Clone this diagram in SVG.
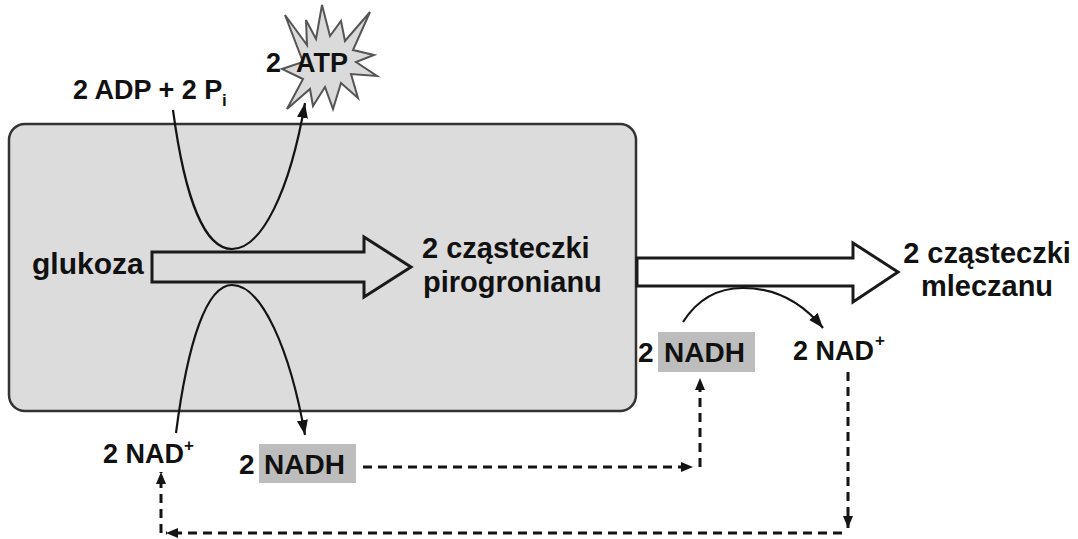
<svg xmlns="http://www.w3.org/2000/svg" width="1078" height="539" viewBox="0 0 1078 539">
  <style>
    text { font-family: "Liberation Sans", Arial, sans-serif; font-weight: bold; font-size: 27px; fill: #111; }
    .lg { font-size: 29px; }
    .nadh { font-size: 28px; }
    .sub { font-size: 17px; }
    .curve { fill: none; stroke: #141414; stroke-width: 2.2; }
    .dash { fill: none; stroke: #141414; stroke-width: 3; stroke-dasharray: 9 6; }
    .big { stroke: #1a1a1a; stroke-width: 3; stroke-linejoin: miter; }
    .hl { fill: #bdbdbd; }
  </style>
  <defs>
    <marker id="ah" markerWidth="16" markerHeight="12" refX="15" refY="5.5" orient="auto" markerUnits="userSpaceOnUse">
      <path d="M0,0 L15,5.5 L0,11 z" fill="#141414"/>
    </marker>
    <marker id="ahs" markerWidth="13" markerHeight="11" refX="12" refY="5" orient="auto" markerUnits="userSpaceOnUse">
      <path d="M0,0 L12,5 L0,10 z" fill="#141414"/>
    </marker>
  </defs>
  <rect width="1078" height="539" fill="#ffffff"/>

  <g id="cell">
    <rect x="9" y="124" width="627" height="287" rx="16" ry="16" fill="#dcdcdc" stroke="#333" stroke-width="2.5"/>
  </g>

  <g id="atp-burst">
    <polygon points="322,5 330,36 341,21 345,41 370,12 353,50 374,55 356,62 377,76 351,74 358,98 341,83 333,109 325,87 313,106 310,89 287,109 303,79 282,69 303,62 285,15 307,45 306,20 316,39" fill="#dadada" stroke="#555" stroke-width="2" stroke-linejoin="miter"/>
  </g>

  <g id="connectors">
    <polygon class="big" points="152,252 364,252 364,237 411,267 364,297 364,282 152,282" fill="#dcdcdc"/>
    <path class="curve" d="M173,110 C185,200 205,249 232,249 C262,249 290,190 305,103" marker-end="url(#ah)"/>
    <path class="curve" d="M176,433 C188,340 207,285 232,285 C262,285 290,350 305,435" marker-end="url(#ah)"/>
    <polygon class="big" points="637,258 853,258 853,243 898,272 853,302 853,286 637,286" fill="#ffffff"/>
    <path class="curve" d="M683,322 C697,300 717,288 743,288 C778,288 804,305 823,328" marker-end="url(#ah)"/>
    <path class="dash" d="M363,467 H693" marker-end="url(#ahs)"/>
    <path class="dash" d="M700,467 V378" marker-end="url(#ahs)"/>
    <path class="dash" d="M848,372 V528" marker-end="url(#ahs)"/>
    <path class="dash" d="M842,533 H166" marker-end="url(#ahs)"/>
    <path class="dash" d="M161,533 V472" marker-end="url(#ahs)"/>
  </g>

  <g id="adp">
    <text x="73" y="99">2 ADP + 2 P<tspan class="sub" x="222" y="106">i</tspan></text>
  </g>
  <g id="atp">
    <text x="266" y="72">2</text>
    <text x="296" y="72">ATP</text>
  </g>
  <g id="glukoza">
    <text x="32" y="274" style="font-size:30px">glukoza</text>
  </g>
  <g id="pirogronian">
    <text class="lg" x="422" y="258">2 cząsteczki</text>
    <text class="lg" x="423" y="292">pirogronianu</text>
  </g>
  <g id="mleczan">
    <text class="lg" x="987" y="263" text-anchor="middle">2 cząsteczki</text>
    <text class="lg" x="987" y="296" text-anchor="middle">mleczanu</text>
  </g>
  <g id="nadh-right">
    <rect class="hl" x="658" y="332" width="97" height="40"/>
    <text class="nadh" x="638" y="362">2</text>
    <text class="nadh" x="664" y="362">NADH</text>
  </g>
  <g id="nad-right">
    <text x="793" y="360">2 NAD<tspan class="sub" x="875" y="346">+</tspan></text>
  </g>
  <g id="nad-left">
    <text x="103" y="463">2 NAD<tspan class="sub" x="184" y="451">+</tspan></text>
  </g>
  <g id="nadh-left">
    <rect class="hl" x="259" y="444" width="97" height="39"/>
    <text class="nadh" x="239" y="474">2</text>
    <text class="nadh" x="264" y="474">NADH</text>
  </g>
</svg>
